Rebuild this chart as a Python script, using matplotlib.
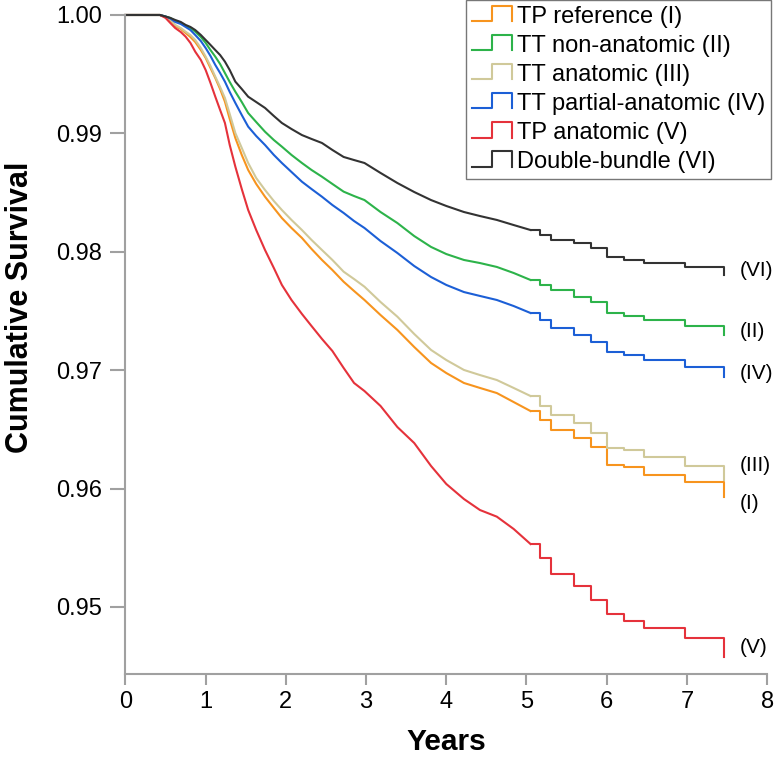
import matplotlib
matplotlib.use("Agg")
import matplotlib.pyplot as plt
from matplotlib.legend_handler import HandlerBase
from matplotlib.lines import Line2D

plt.rcParams['font.family'] = ['Liberation Sans', 'DejaVu Sans']

# ---- data ----
years = [0, 0.43, 0.5, 0.56, 0.62, 0.69, 0.75, 0.81, 0.87, 0.94, 1.0, 1.06, 1.12, 1.18,
         1.24, 1.30, 1.37, 1.45, 1.53, 1.63, 1.74, 1.85, 1.95, 2.07, 2.2, 2.32, 2.45,
         2.58, 2.72, 2.85, 2.98, 3.18, 3.39, 3.6, 3.81, 4.0, 4.22, 4.42, 4.63, 4.84,
         5.05, 5.17, 5.30, 5.59, 5.80, 6.0, 6.21, 6.46, 6.98, 7.46]

tp_reference = [1.0, 1.0, 0.99983, 0.99954, 0.99907, 0.99882, 0.99848, 0.99814, 0.99772,
                0.99704, 0.99637, 0.99552, 0.99468, 0.99375, 0.99268, 0.99122, 0.98961,
                0.98818, 0.98691, 0.98573, 0.98465, 0.98370, 0.98285, 0.98201, 0.98117,
                0.98024, 0.97931, 0.97846, 0.97747, 0.97669, 0.97593, 0.97466, 0.97340,
                0.97196, 0.97061, 0.96976, 0.96892, 0.96850, 0.96807, 0.96731, 0.96655,
                0.96579, 0.96495, 0.96427, 0.96354, 0.96199, 0.96182, 0.96115, 0.96056,
                0.95929]

tt_non_anatomic = [1.0, 1.0, 0.99987, 0.99975, 0.99949, 0.99932, 0.99907, 0.99890, 0.99859,
                   0.99814, 0.99764, 0.99704, 0.99648, 0.99586, 0.99510, 0.99434, 0.99352,
                   0.99265, 0.99172, 0.99096, 0.99014, 0.98944, 0.98888, 0.98818, 0.98750,
                   0.98691, 0.98634, 0.98573, 0.98508, 0.98471, 0.98437, 0.98336, 0.98243,
                   0.98133, 0.98041, 0.97981, 0.97931, 0.97905, 0.97872, 0.97821, 0.97762,
                   0.97720, 0.97677, 0.97618, 0.97579, 0.97483, 0.97458, 0.97424, 0.97376,
                   0.97297]

tt_anatomic = [1.0, 1.0, 0.99983, 0.99958, 0.99916, 0.99890, 0.99859, 0.99831, 0.99789,
               0.99721, 0.99648, 0.99569, 0.99479, 0.99392, 0.99299, 0.99164, 0.99003,
               0.98877, 0.98750, 0.98623, 0.98522, 0.98429, 0.98353, 0.98269, 0.98184,
               0.98100, 0.98015, 0.97931, 0.97832, 0.97770, 0.97705, 0.97576, 0.97452,
               0.97306, 0.97171, 0.97086, 0.97002, 0.96959, 0.96917, 0.96850, 0.96782,
               0.96698, 0.96622, 0.96554, 0.96470, 0.96343, 0.96326, 0.96269, 0.96193,
               0.96073]

tt_partial = [1.0, 1.0, 0.99987, 0.99970, 0.99941, 0.99924, 0.99899, 0.99873, 0.99831,
              0.99780, 0.99721, 0.99654, 0.99578, 0.99510, 0.99437, 0.99350, 0.99257,
              0.99155, 0.99057, 0.98978, 0.98902, 0.98818, 0.98750, 0.98674, 0.98592,
              0.98530, 0.98465, 0.98395, 0.98328, 0.98260, 0.98201, 0.98091, 0.97990,
              0.97880, 0.97787, 0.97720, 0.97660, 0.97627, 0.97593, 0.97542, 0.97483,
              0.97424, 0.97356, 0.97297, 0.97241, 0.97156, 0.97128, 0.97086, 0.97030,
              0.96945]

tp_anatomic = [1.0, 1.0, 0.99975, 0.99932, 0.99890, 0.99856, 0.99817, 0.99764, 0.99690,
               0.99620, 0.99535, 0.99426, 0.99310, 0.99198, 0.99088, 0.98902, 0.98719,
               0.98530, 0.98353, 0.98184, 0.98015, 0.97863, 0.97720, 0.97593, 0.97475,
               0.97373, 0.97264, 0.97162, 0.97019, 0.96892, 0.96824, 0.96698, 0.96520,
               0.96385, 0.96191, 0.96039, 0.95912, 0.95819, 0.95763, 0.95659, 0.95532,
               0.95414, 0.95279, 0.95177, 0.95059, 0.94941, 0.94884, 0.94825, 0.94741,
               0.94575]

double_bundle = [1.0, 1.0, 0.99987, 0.99975, 0.99958, 0.99941, 0.99916, 0.99899, 0.99873,
                 0.99831, 0.99789, 0.99747, 0.99704, 0.99662, 0.99606, 0.99535, 0.99437,
                 0.99375, 0.99310, 0.99265, 0.99215, 0.99147, 0.99088, 0.99037, 0.98986,
                 0.98953, 0.98919, 0.98860, 0.98801, 0.98775, 0.98750, 0.98666, 0.98581,
                 0.98505, 0.98437, 0.98387, 0.98336, 0.98302, 0.98269, 0.98226, 0.98184,
                 0.98142, 0.98100, 0.98074, 0.98032, 0.97956, 0.97931, 0.97905, 0.97872,
                 0.97804]

legend_labels = ['TP reference (I)', 'TT non-anatomic (II)', 'TT anatomic (III)',
                 'TT partial-anatomic (IV)', 'TP anatomic (V)', 'Double-bundle (VI)']
end_labels = ['(I)', '(II)', '(III)', '(IV)', '(V)', '(VI)']
series = [tp_reference, tt_non_anatomic, tt_anatomic, tt_partial, tp_anatomic, double_bundle]

colors = ['#F7941E', '#2DB34A', '#D0C99A', '#1C5FD6', '#E5323B', '#333333']
label_y = [0.95878, 0.97323, 0.96199, 0.96976, 0.94654, 0.97846]

# dense early part drawn as a line, sparse tail drawn as KM steps
split = years.index(5.05)


class StepHandler(HandlerBase):
    # little "_|-|" glyph like the KM legend
    def create_artists(self, legend, orig_handle, xdescent, ydescent, width, height,
                       fontsize, trans):
        x0, y0 = -xdescent, -ydescent
        xs = [x0, x0 + 0.5 * width, x0 + 0.5 * width, x0 + width, x0 + width]
        ys = [y0 + 0.1 * height, y0 + 0.1 * height, y0 + 1.05 * height,
              y0 + 1.05 * height, y0 + 0.1 * height]
        ln = Line2D(xs, ys, color=orig_handle.get_color(),
                    linewidth=orig_handle.get_linewidth())
        ln.set_transform(trans)
        return [ln]


fig = plt.figure(figsize=(7.74, 7.57), dpi=100)
ax = fig.add_axes([0.1621, 0.1090, 0.8290, 0.8712])

handles = []
for vals, lab, c in zip(series, legend_labels, colors):
    h, = ax.plot(years[:split + 1], vals[:split + 1], color=c, lw=1.5,
                 label=lab, clip_on=False)
    ax.plot(years[split:], vals[split:], drawstyle='steps-post', color=c, lw=1.5,
            clip_on=False)
    handles.append(h)

for txt, yv in zip(end_labels, label_y):
    ax.text(7.66, yv, txt, ha='left', va='center', fontsize=15)

ax.set_xlim(0, 8)
ax.set_ylim(0.9443, 1.0)
ax.set_xticks(range(0, 9))
ax.set_yticks([0.95, 0.96, 0.97, 0.98, 0.99, 1.00])
ax.set_yticklabels(['%.2f' % v for v in [0.95, 0.96, 0.97, 0.98, 0.99, 1.00]])

for s in ['top', 'right']:
    ax.spines[s].set_visible(False)
for s in ['left', 'bottom']:
    ax.spines[s].set_color('#a0a0a0')
    ax.spines[s].set_linewidth(1.5)

ax.tick_params(axis='y', direction='out', length=11, width=1.5, color='#a0a0a0',
               labelsize=17, pad=6)
ax.tick_params(axis='x', direction='out', length=8, width=1.5, color='#a0a0a0',
               labelsize=17, pad=4)

ax.set_xlabel('Years', fontsize=21.5, fontweight='bold', labelpad=11)
ax.set_ylabel('Cumulative Survival', fontsize=22, fontweight='bold')
ax.yaxis.set_label_coords(-0.141, 0.556)

leg = ax.legend(handles=handles, handler_map={Line2D: StepHandler()},
                loc='upper right', bbox_to_anchor=(771 / 774, 1.0),
                bbox_transform=fig.transFigure, borderaxespad=0, fontsize=17,
                frameon=True, fancybox=False, handlelength=1.7, handletextpad=0.2,
                borderpad=0.25, labelspacing=0.3)
leg.get_frame().set_edgecolor('#555555')
leg.get_frame().set_linewidth(1.0)

fig.savefig('out.png', dpi=100)
